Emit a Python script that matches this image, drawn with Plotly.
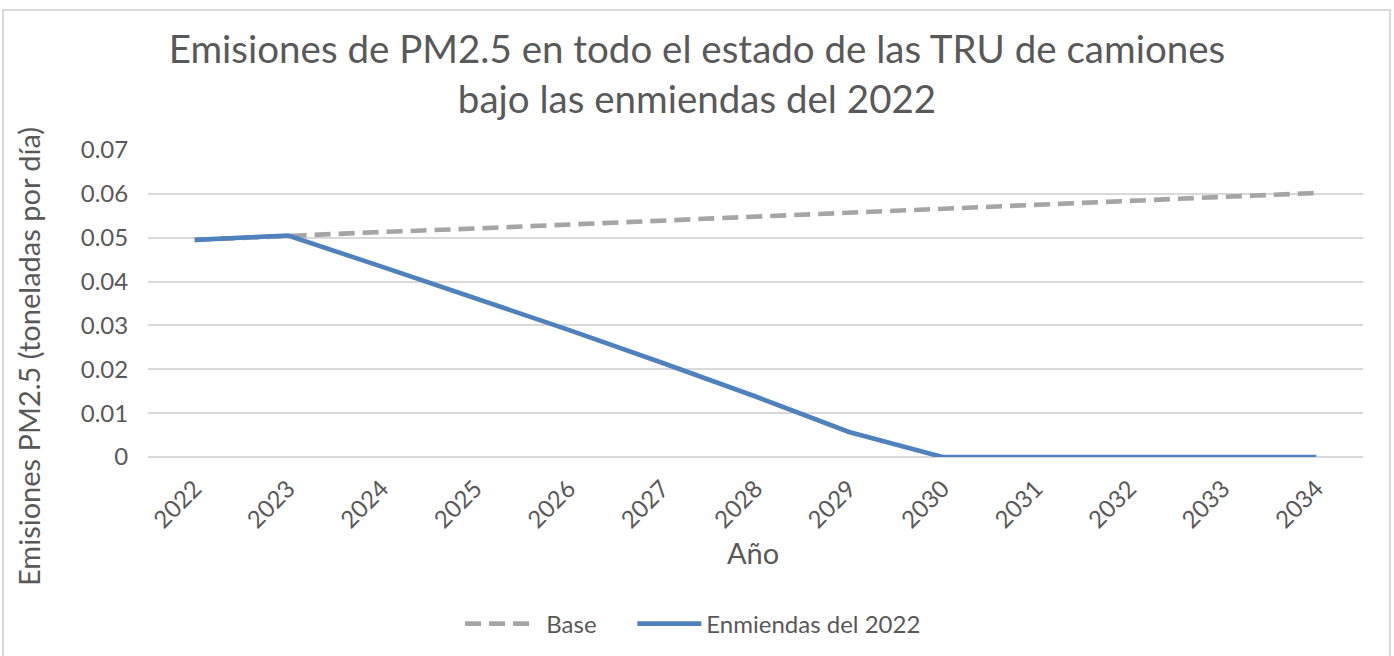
import plotly.graph_objects as go

years = ["2022", "2023", "2024", "2025", "2026", "2027", "2028", "2029", "2030", "2031", "2032", "2033", "2034"]
base = [0.0495, 0.0505, 0.0513, 0.0521, 0.0530, 0.0538, 0.0546, 0.0555, 0.0565, 0.0574, 0.0582, 0.0591, 0.0602]
enmiendas = [0.0495, 0.0505, 0.0434, 0.0362, 0.0290, 0.0215, 0.0138, 0.0057, 0.0, 0.0, 0.0, 0.0, 0.0]
y_ticks = [0, 0.01, 0.02, 0.03, 0.04, 0.05, 0.06, 0.07]
y_ticklabels = ["0", "0.01", "0.02", "0.03", "0.04", "0.05", "0.06", "0.07"]
series_names = ["Base", "Enmiendas del 2022"]

FONT = "Lato"
TXT = "#595959"
W, H = 1394, 656
L, R, T, B = 148, 31, 150, 199
PW, PH = W - L - R, H - T - B
NBSP = "\u00a0"

fig = go.Figure()
fig.add_trace(go.Scatter(x=years, y=base, mode="lines", name=NBSP * 2 + series_names[0] + NBSP * 5,
                         line=dict(color="#A5A5A5", width=4.6, dash="16px,8px")))
fig.add_trace(go.Scatter(x=years, y=enmiendas, mode="lines", name=series_names[1],
                         line=dict(color="#4F81BD", width=4.6)))


def px_x(px):
    return (px - L) / PW


def px_y(py):
    return (H - B - py) / PH


fig.update_layout(
    width=W, height=H,
    paper_bgcolor="white", plot_bgcolor="white",
    margin=dict(l=L, r=R, t=T, b=B, autoexpand=False),
    font=dict(family=FONT, color=TXT, size=24),
    title=dict(text="Emisiones de PM2.5 en todo el estado de las TRU de camiones<br>bajo las enmiendas del 2022",
               x=0.5, xanchor="center", y=1 - 63 / H, yanchor="middle",
               font=dict(family=FONT, size=38.5, color=TXT)),
    xaxis=dict(type="category", range=[-0.5, 12.5], tickangle=-45, showgrid=False, showline=False,
               ticks="outside", ticklen=7, tickcolor="rgba(0,0,0,0)", automargin=False,
               tickfont=dict(size=24, color=TXT)),
    yaxis=dict(range=[0, 0.07], tickvals=y_ticks, ticktext=y_ticklabels, automargin=False,
               showgrid=True, gridcolor="#D9D9D9", gridwidth=1.5, zeroline=True,
               zerolinecolor="#D9D9D9", zerolinewidth=1.5, showline=False,
               ticks="outside", ticklen=14, tickcolor="rgba(0,0,0,0)",
               tickfont=dict(size=24, color=TXT)),
    legend=dict(orientation="h", x=px_x(460), xanchor="left", y=px_y(624), yanchor="middle",
                font=dict(size=24, color=TXT), traceorder="normal", itemwidth=64),
    annotations=[
        dict(text="Año", xref="paper", yref="paper", x=px_x(753), y=px_y(552),
             xanchor="center", yanchor="middle", showarrow=False, font=dict(size=29, color=TXT)),
        dict(text="Emisiones PM2.5 (toneladas por día)", xref="paper", yref="paper", x=px_x(28), y=px_y(357),
             xanchor="center", yanchor="middle", textangle=-90, showarrow=False, font=dict(size=29, color=TXT)),
    ],
    shapes=[dict(type="rect", xref="paper", yref="paper", x0=px_x(3), x1=px_x(1390),
                 y0=px_y(680), y1=px_y(10),
                 line=dict(color="#D9D9D9", width=2), fillcolor="rgba(0,0,0,0)", layer="below")],
)

fig.write_html("out.html", config={"displayModeBar": False},
               post_script="document.body.style.margin='0px';")
